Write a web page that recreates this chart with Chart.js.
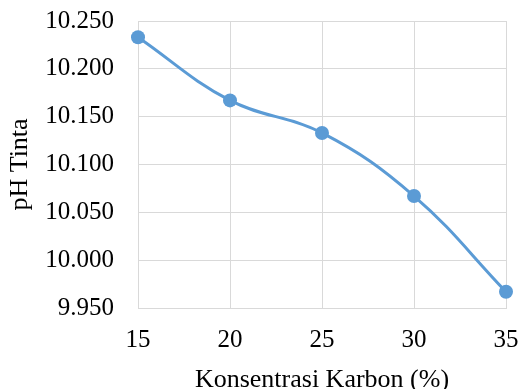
<!DOCTYPE html>
<html>
<head>
<meta charset="utf-8">
<script src="https://cdn.jsdelivr.net/npm/chart.js@4"></script>
<style>
  html, body { margin: 0; padding: 0; background: #fff; }
  #wrap { width: 521px; height: 389px; }
</style>
</head>
<body>
<div id="wrap"><canvas id="chart" width="521" height="389"></canvas></div>
<script>
// carbon concentration (%) and ink pH
const konsentrasi = [15, 20, 25, 30, 35];
const phTinta = [10.233, 10.167, 10.133, 10.067, 9.967];

const FONT = "'Liberation Serif', 'Times New Roman', serif";
const GRID = '#d9d9d9';

const ctx = document.getElementById('chart').getContext('2d');
new Chart(ctx, {
  type: 'line',
  data: {
    datasets: [
      {
        label: 'pH Tinta',
        data: konsentrasi.map((x, i) => ({ x: x, y: phTinta[i] })),
        borderColor: '#5b9bd5',
        backgroundColor: '#5b9bd5',
        borderWidth: 3,
        pointRadius: 7,
        pointBorderWidth: 0,
        tension: 0.4,
        fill: false,
        clip: false,
      },
    ],
  },
  options: {
    responsive: false,
    animation: false,
    layout: { padding: { left: 0, right: 15, top: 21, bottom: 0 } },
    plugins: {
      legend: { display: false },
      tooltip: { enabled: false },
    },
    scales: {
      x: {
        type: 'linear',
        min: 15,
        max: 35,
        ticks: {
          stepSize: 5,
          padding: 17,
          color: '#000',
          font: { family: FONT, size: 25 },
        },
        grid: { color: GRID, drawTicks: false },
        border: { color: GRID },
        title: {
          display: true,
          text: 'Konsentrasi Karbon (%)',
          color: '#000',
          font: { family: FONT, size: 26, lineHeight: 1 },
          padding: { top: 0, bottom: -4 },
        },
        afterFit: (scale) => {
          scale.height = 81;
          scale.paddingLeft = 0;
          scale.paddingRight = 0;
        },
      },
      y: {
        min: 9.95,
        max: 10.25,
        ticks: {
          stepSize: 0.05,
          padding: 24,
          color: '#000',
          font: { family: FONT, size: 25 },
          callback: (value) => Number(value).toFixed(3),
        },
        grid: { color: GRID, drawTicks: false },
        border: { color: GRID },
        title: {
          display: true,
          text: 'pH Tinta',
          color: '#000',
          font: { family: FONT, size: 26, lineHeight: 1 },
          padding: { top: 7, bottom: 0 },
        },
        afterFit: (scale) => {
          scale.width = 138;
          scale.paddingTop = 0;
          scale.paddingBottom = 0;
        },
      },
    },
  },
});
</script>
</body>
</html>
